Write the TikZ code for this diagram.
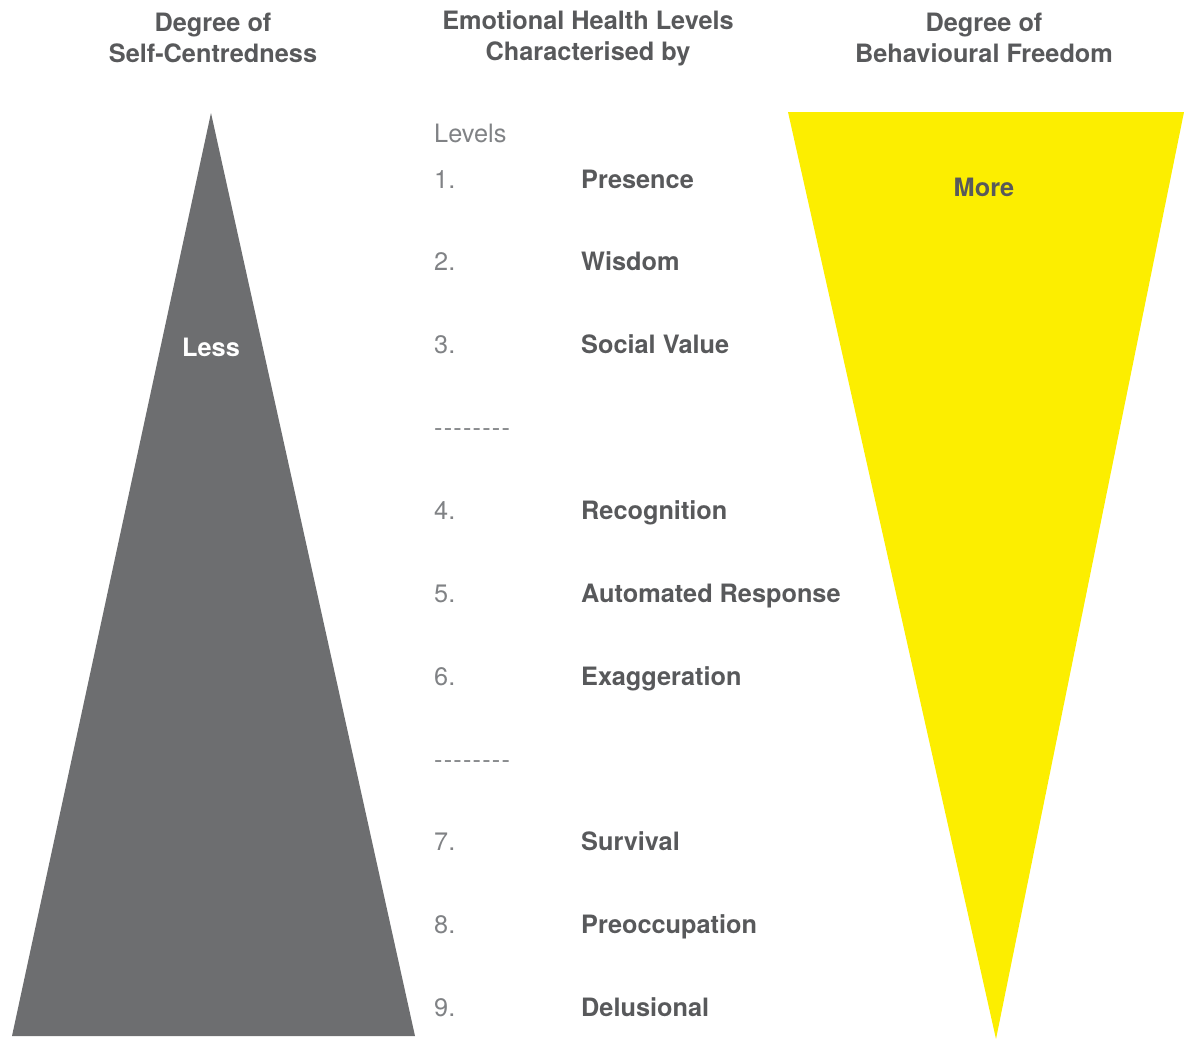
\documentclass[tikz,border=0pt]{standalone}
\usepackage{fontspec}
\setmainfont{TeX Gyre Heros}
\definecolor{tri}{HTML}{6D6E70}
\definecolor{yel}{HTML}{FCEE00}
\definecolor{txt}{HTML}{58595B}
\definecolor{num}{HTML}{808285}
\newcommand{\dashrow}{-\kern1.2pt-\kern1.2pt-\kern1.2pt-\kern1.2pt-\kern1.2pt-\kern1.2pt-\kern1.2pt-}
\begin{document}
\begin{tikzpicture}[x=1pt,y=-1pt,
  head/.style={font=\fontsize{25.3}{31}\selectfont\bfseries, text=txt, align=center, inner sep=0pt},
  lvl/.style={font=\fontsize{25.3}{28}\selectfont\bfseries, text=txt, anchor=mid west, inner sep=0pt},
  numb/.style={font=\fontsize{25.3}{28}\selectfont, text=num, anchor=mid west, inner sep=0pt}]
\useasboundingbox (0,0) rectangle (1184,1039);
\fill[tri] (211,113) -- (415,1036) -- (12,1036) -- cycle;
\fill[yel] (788,112) -- (1184,112) -- (996,1039) -- cycle;
\node[head] (h1) at (213,38) {Degree of\\Self-Centredness};
\node[head] (h2) at (588,38) {Emotional Health Levels\\Characterised by};
\node[head] (h3) at (984,38) {Degree of\\Behavioural Freedom};
\node[lvl, anchor=center, text=white] (less) at (211,347) {Less};
\node[lvl, anchor=center] (more) at (984,187) {More};
\node[numb] (lv) at (434,140) {Levels};
\foreach \n/\y/\t in {1/186/Presence,2/268/Wisdom,3/351/Social Value,4/517/Recognition,5/600/Automated Response,6/683/Exaggeration,7/848/Survival,8/931/Preoccupation,9/1014/Delusional}{
  \node[numb] (n\n) at (434,\y) {\n.};
  \node[lvl] (l\n) at (581,\y) {\t};
}
\node[numb] (d1) at (434,434) {\dashrow};
\node[numb] (d2) at (434,766) {\dashrow};
\end{tikzpicture}
\end{document}
